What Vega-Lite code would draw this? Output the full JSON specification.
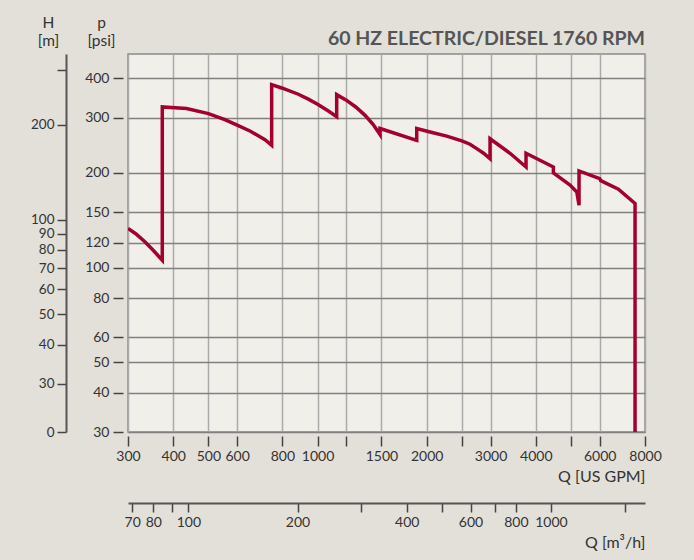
{
  "$schema": "https://vega.github.io/schema/vega-lite/v6.json",
  "width": 517,
  "height": 378,
  "autosize": "none",
  "padding": {"left": 128, "top": 54, "right": 49, "bottom": 128},
  "background": "#e3e0d9",
  "title": {
    "text": "60 HZ ELECTRIC/DIESEL 1760 RPM",
    "anchor": "end",
    "frame": "group",
    "font": "Lato",
    "fontSize": 19.5,
    "fontWeight": "bold",
    "color": "#555555",
    "offset": -34
  },
  "config": {
    "view": {"fill": "#f0efea", "stroke": "#8a8a8a", "strokeWidth": 1.5},
    "axis": {
      "labelFont": "Lato",
      "titleFont": "Lato",
      "labelColor": "#333333",
      "titleColor": "#333333",
      "tickColor": "#444444",
      "labelFontSize": 14,
      "titleFontSize": 16,
      "titleFontWeight": "normal"
    }
  },
  "data": {
    "values": [
      {"i": 1, "q": 300, "p": 133.2},
      {"i": 2, "q": 315, "p": 128.2},
      {"i": 3, "q": 334, "p": 120.8},
      {"i": 4, "q": 352, "p": 113.5},
      {"i": 5, "q": 373, "p": 105.6},
      {"i": 6, "q": 373, "p": 324.4},
      {"i": 7, "q": 435, "p": 320.5},
      {"i": 8, "q": 500, "p": 309},
      {"i": 9, "q": 555, "p": 295.4},
      {"i": 10, "q": 600, "p": 284},
      {"i": 11, "q": 651, "p": 271.9},
      {"i": 12, "q": 716, "p": 255.3},
      {"i": 13, "q": 747, "p": 245},
      {"i": 14, "q": 747, "p": 382},
      {"i": 15, "q": 800, "p": 372},
      {"i": 16, "q": 885, "p": 356},
      {"i": 17, "q": 943, "p": 343.5},
      {"i": 18, "q": 1000, "p": 331},
      {"i": 19, "q": 1071, "p": 315},
      {"i": 20, "q": 1129, "p": 302},
      {"i": 21, "q": 1129, "p": 355},
      {"i": 22, "q": 1200, "p": 341},
      {"i": 23, "q": 1277, "p": 323.7},
      {"i": 24, "q": 1352, "p": 305},
      {"i": 25, "q": 1422, "p": 285.8},
      {"i": 26, "q": 1487, "p": 265},
      {"i": 27, "q": 1487, "p": 277},
      {"i": 28, "q": 1877, "p": 254},
      {"i": 29, "q": 1877, "p": 277},
      {"i": 30, "q": 2043, "p": 270},
      {"i": 31, "q": 2271, "p": 262},
      {"i": 32, "q": 2500, "p": 253},
      {"i": 33, "q": 2633, "p": 246.9},
      {"i": 34, "q": 2748, "p": 239},
      {"i": 35, "q": 2870, "p": 231.2},
      {"i": 36, "q": 2990, "p": 222},
      {"i": 37, "q": 2990, "p": 257},
      {"i": 38, "q": 3395, "p": 231},
      {"i": 39, "q": 3758, "p": 209},
      {"i": 40, "q": 3758, "p": 231},
      {"i": 41, "q": 4471, "p": 209},
      {"i": 42, "q": 4471, "p": 200},
      {"i": 43, "q": 4970, "p": 183},
      {"i": 44, "q": 5188, "p": 174},
      {"i": 45, "q": 5262, "p": 158},
      {"i": 46, "q": 5262, "p": 203},
      {"i": 47, "q": 6000, "p": 192},
      {"i": 48, "q": 6040, "p": 189},
      {"i": 49, "q": 6757, "p": 177.6},
      {"i": 50, "q": 7510, "p": 160},
      {"i": 51, "q": 7510, "p": 30}
    ]
  },
  "layer": [
    {
      "mark": {"type": "line", "color": "#a3002e", "strokeWidth": 3.5, "strokeJoin": "miter", "strokeCap": "butt", "clip": true},
      "encoding": {
        "x": {
          "field": "q", "type": "quantitative",
          "scale": {"type": "log", "domain": [300, 8000], "nice": false},
          "axis": {
            "orient": "bottom",
            "offset": 4,
            "domain": false,
            "values": [300, 400, 500, 600, 800, 1000, 1200, 1500, 2000, 2500, 3000, 4000, 5000, 6000, 8000],
            "labelExpr": "(datum.value == 1200 || datum.value == 2500 || datum.value == 5000) ? '' : datum.value",
            "tickSize": 10,
            "tickWidth": 1.5,
            "labelPadding": 3,
            "labelFlush": false,
            "labelOverlap": false,
            "grid": true,
            "gridColor": "#aaaaaa",
            "gridWidth": 1.5,
            "title": "Q [US GPM]",
            "titleAnchor": "end",
            "titleAlign": "right",
            "titlePadding": 5
          }
        },
        "y": {
          "field": "p", "type": "quantitative",
          "scale": {"type": "log", "domain": [30, 478], "nice": false, "zero": false},
          "axis": {
            "orient": "left",
            "offset": 5,
            "domain": false,
            "values": [30, 40, 50, 60, 80, 100, 120, 150, 200, 300, 400],
            "tickSize": 10,
            "tickWidth": 1.5,
            "labelPadding": 4,
            "labelFlush": false,
            "labelOverlap": false,
            "grid": true,
            "gridColor": "#808080",
            "gridWidth": 1.5,
            "title": ["p", "[psi]"],
            "titleAngle": 0,
            "titleAlign": "center",
            "titleBaseline": "bottom",
            "titleX": -22,
            "titleY": -24,
            "titleFontSize": 15.5,
            "titleLineHeight": 18
          }
        },
        "order": {"field": "i", "type": "quantitative"}
      }
    },
    {
      "mark": {"type": "line", "opacity": 0},
      "encoding": {
        "x": {
          "field": "q", "type": "quantitative",
          "axis": {
            "orient": "bottom",
            "offset": 71,
            "domain": true,
            "domainColor": "#555555",
            "domainWidth": 2,
            "values": [308.2, 352.2, 396.3, 440.3, 880.6, 1320.9, 1761.2, 2201.4, 2641.7, 3082, 3522.3, 4402.9, 7044.6],
            "labelExpr": "indexof([70, 80, 100, 200, 400, 600, 800, 1000], round(datum.value / 4.40287)) >= 0 ? round(datum.value / 4.40287) : ''",
            "tickSize": 9,
            "tickWidth": 1.5,
            "labelPadding": 3,
            "labelFlush": false,
            "labelOverlap": false,
            "grid": false,
            "title": "Q [m³/h]",
            "titleAnchor": "end",
            "titleAlign": "right",
            "titlePadding": 5
          }
        },
        "y": {
          "field": "p", "type": "quantitative",
          "axis": {
            "orient": "left",
            "offset": 62,
            "domain": true,
            "domainColor": "#555555",
            "domainWidth": 2,
            "values": [30, 42.67, 56.89, 71.12, 85.34, 99.56, 113.79, 128.01, 142.23, 284.47, 426.7],
            "labelExpr": "datum.value < 31 ? '0' : (datum.value > 400 ? '' : round(datum.value / 1.42233))",
            "tickSize": 9,
            "tickWidth": 1.5,
            "labelPadding": 3,
            "labelFontSize": 13.5,
            "labelFlush": false,
            "labelOverlap": false,
            "grid": false,
            "title": ["H", "[m]"],
            "titleAngle": 0,
            "titleAlign": "center",
            "titleBaseline": "bottom",
            "titleX": -18,
            "titleY": -24,
            "titleFontSize": 15.5,
            "titleLineHeight": 18
          }
        },
        "order": {"field": "i", "type": "quantitative"}
      }
    }
  ],
  "resolve": {"axis": {"x": "independent", "y": "independent"}}
}
